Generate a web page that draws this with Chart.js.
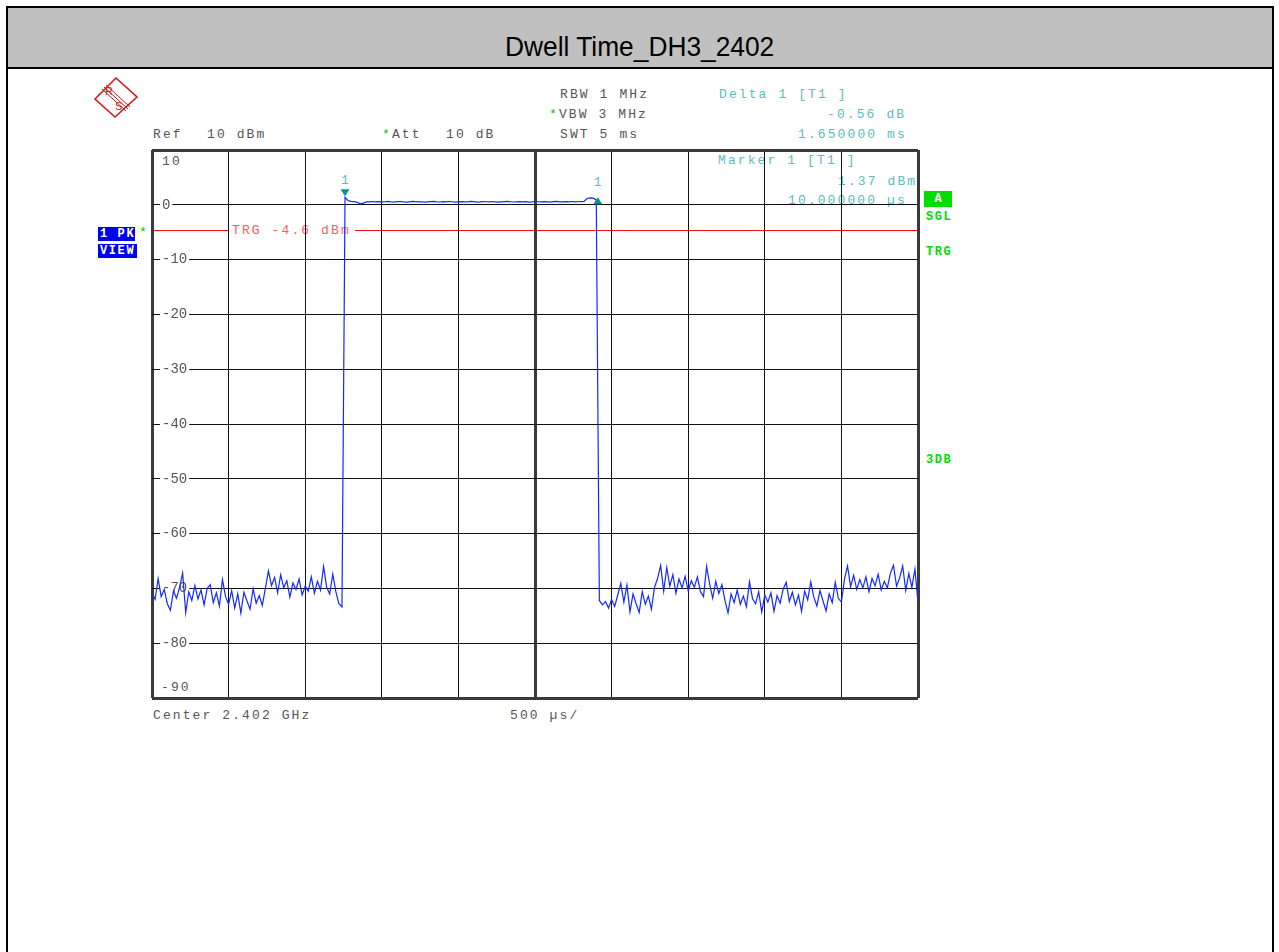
<!DOCTYPE html>
<html>
<head>
<meta charset="utf-8">
<title>Dwell Time_DH3_2402</title>
<script src="https://cdn.jsdelivr.net/npm/chart.js@4.4.1/dist/chart.umd.min.js"></script>
<style>
  html, body { margin: 0; padding: 0; background: #fff; }
  #page { position: relative; width: 1279px; height: 952px; overflow: hidden; }
  #frame { position: absolute; left: 6px; top: 6px; width: 1264px; height: 1000px; border: 2px solid #000; }
  #titlebar { position: absolute; left: 8px; top: 8px; width: 1264px; height: 59px; background: #c0c0c0; border-bottom: 2px solid #000; }
  #title { position: absolute; left: 0; width: 1279px; top: 33px; text-align: center; font: 28px "Liberation Sans", Arial, sans-serif; line-height: 28px; color: #000; transform: scaleX(0.94); transform-origin: 642px 0; }
  .t { position: absolute; font-family: "Liberation Mono", monospace; font-size: 13px; line-height: 13px; letter-spacing: 2.1px; color: #555; white-space: pre; }
  .c { color: #5cbcbc; }
  .r { color: #ff5a5a; }
  .s { color: #00c800; }
  .g { position: absolute; font: bold 12px "Liberation Mono", monospace; line-height: 12px; letter-spacing: 1.5px; color: #00dd00; white-space: pre; }
  .box { position: absolute; font: bold 12px "Liberation Mono", monospace; line-height: 14px; letter-spacing: 1.6px; color: #fff; white-space: pre; padding-left: 2px; }
  canvas { position: absolute; left: 0; top: 0; }
</style>
</head>
<body>
<div id="page">
  <div id="frame"></div>
  <div id="titlebar"></div>
  <div id="title">Dwell Time_DH3_2402</div>

  <svg style="position:absolute;left:90px;top:74px" width="52" height="48" viewBox="0 0 52 48">
    <polygon points="5,25 26,4 47,23 25,43" fill="none" stroke="#d01818" stroke-width="1.6"/>
    <line x1="12" y1="15" x2="36" y2="37" stroke="#d01818" stroke-width="1"/>
    <line x1="14" y1="13" x2="38" y2="35" stroke="#d01818" stroke-width="1"/>
    <line x1="16" y1="11" x2="40" y2="33" stroke="#d01818" stroke-width="1"/>
    <text x="15" y="21" font-family="Liberation Sans" font-size="11" fill="#d01818">R</text>
    <text x="25" y="36" font-family="Liberation Sans" font-size="11" fill="#d01818">S</text>
  </svg>

  <div class="t" style="left:560px;top:88px">RBW 1 MHz</div>
  <div class="t" style="left:549px;top:108px"><span class="s">*</span>VBW 3 MHz</div>
  <div class="t" style="left:560px;top:128px">SWT 5 ms</div>
  <div class="t" style="left:153px;top:128px">Ref</div>
  <div class="t" style="left:207px;top:128px">10 dBm</div>
  <div class="t" style="left:382px;top:128px"><span class="s">*</span>Att</div>
  <div class="t" style="left:446px;top:128px">10 dB</div>

  <div class="t c" style="left:719px;top:88px">Delta 1 [T1 ]</div>
  <div class="t c" style="left:827px;top:108px">-0.56 dB</div>
  <div class="t c" style="left:798px;top:128px">1.650000 ms</div>
  <div class="t c" style="left:718px;top:154px">Marker 1 [T1 ]</div>
  <div class="t c" style="left:838px;top:175px">1.37 dBm</div>
  <div class="t c" style="left:788px;top:194px">10.000000 µs</div>

  <div class="t r" id="trgLabel" style="left:232px;top:224px">TRG -4.6 dBm</div>

  <div class="box" style="left:98px;top:227px;width:35px;height:14px;background:#0000ee">1 PK</div>
  <div class="box" style="left:98px;top:244px;width:37px;height:14px;background:#0000ee">VIEW</div>
  <div class="t s" style="left:139px;top:226px">*</div>

  <div class="box" style="left:924px;top:191px;width:26px;height:16px;line-height:16px;background:#00dd00;text-align:center">A</div>
  <div class="g" style="left:926px;top:211px">SGL</div>
  <div class="g" style="left:926px;top:246px">TRG</div>
  <div class="g" style="left:926px;top:454px">3DB</div>

  <div class="t" id="yTop" style="left:162px;top:155px">10</div>
  <div class="t" id="yBottom" style="left:161px;top:681px">-90</div>
  <div class="t c" id="m1Label" style="left:341px;top:175px">1</div>
  <div class="t c" id="d1Label" style="left:594px;top:176px">1</div>

  <div class="t" style="left:153px;top:709px">Center 2.402 GHz</div>
  <div class="t" style="left:510px;top:709px">500 µs/</div>

  <canvas id="trace" width="1279" height="952"></canvas>
</div>

<script>
// sweep: 5 ms span, 251 trace points, 20 us apart
const sweepStepUs = 20;
const spanUs = 5000;
const gridStepUs = 500;

const refLevel = 10;
const bottomLevel = -90;
const levelStep = 10;
const triggerLevel = -4.6;

const marker1Us = 1260;
const marker1Dbm = 1.37;
const delta1Us = 1650;
const delta1Db = -0.56;

// noise floor before the burst
const noiseBeforeDbm = [
  -70.9, -72.0, -68.2, -71.5, -70.2, -72.8, -74.0, -70.5, -71.8, -69.8,
  -67.2, -74.4, -70.6, -72.2, -69.5, -71.9, -70.3, -73.0, -70.0, -69.3,
  -72.6, -70.8, -73.2, -68.4, -71.5, -72.9, -70.4, -73.6, -71.0, -74.5,
  -70.7, -72.3, -73.8, -70.1, -72.7, -71.3, -73.1, -70.0, -66.8, -69.5,
  -68.0, -70.8, -67.5, -69.9, -68.6, -71.6, -69.0, -70.2, -68.3, -71.2,
  -69.6, -70.5, -67.9, -70.9, -68.7, -70.3, -66.0, -69.8, -71.0, -67.4,
  -70.6, -72.8, -73.4
];

// the DH3 burst
const burstDbm = [
  1.37, 0.75, 0.62, 0.58, 0.45, 0.18, 0.30, 0.52,
  0.55, 0.60, 0.52, 0.58, 0.50, 0.56, 0.62, 0.54, 0.50, 0.57,
  0.60, 0.53, 0.49, 0.55, 0.61, 0.58, 0.52, 0.56, 0.50, 0.54,
  0.59, 0.62, 0.55, 0.51, 0.57, 0.53, 0.60, 0.56, 0.50, 0.54,
  0.58, 0.52, 0.55, 0.61, 0.57, 0.50, 0.53, 0.59, 0.56, 0.52,
  0.60, 0.55, 0.49, 0.54, 0.58, 0.62, 0.56, 0.51, 0.55, 0.59,
  0.53, 0.57, 0.50, 0.54, 0.60, 0.56, 0.52, 0.58, 0.55, 0.50,
  0.57, 0.61, 0.54, 0.52, 0.58, 0.55, 0.60, 0.53, 0.56, 0.59,
  0.62,
  1.15, 1.25, 1.22, 0.90
];

// noise floor after the burst
const noiseAfterDbm = [
  -72.2, -73.0, -72.4, -73.6, -72.0, -73.3, -71.2, -69.1, -72.5, -69.4,
  -74.3, -71.0, -72.8, -74.4, -70.6, -72.9, -71.4, -73.8, -69.8, -68.2,
  -65.8, -70.5, -66.2, -69.6, -67.5, -70.9, -68.3, -69.9, -67.8, -70.4,
  -68.6, -69.8, -67.9, -70.6, -71.5, -66.0, -69.2, -71.8, -68.7, -70.9,
  -69.3, -72.2, -74.5, -71.0, -72.6, -70.3, -72.9, -71.4, -73.3, -68.8,
  -71.9, -72.8, -70.6, -74.3, -71.2, -72.5, -70.8, -74.2, -71.3, -72.7,
  -70.1, -68.9, -72.4, -70.7, -73.0, -71.2, -74.2, -70.5, -72.1, -68.8,
  -71.6, -73.2, -70.4, -72.3, -74.1, -71.0, -72.6, -68.9, -71.8, -72.5,
  -68.3, -65.9, -69.7, -67.6, -70.2, -68.4, -69.9, -67.9, -70.6, -68.2,
  -69.5, -67.4, -70.3, -68.7, -69.9, -67.2, -65.8, -69.6, -68.1, -65.9,
  -70.4, -67.3, -69.8, -66.5, -72.5
];

const traceDbm = noiseBeforeDbm.concat(burstDbm, noiseAfterDbm);
const tracePoints = traceDbm.map((v, i) => ({ x: i * sweepStepUs, y: v }));

const isEdgeX = v => v === 0 || v === spanUs;
const isEdgeY = v => v === refLevel || v === bottomLevel;

// red trigger line, broken where the TRG label sits
const triggerLine = {
  id: 'triggerLine',
  beforeDraw(chart) {
    const { ctx, chartArea, scales: { y } } = chart;
    const lab = document.getElementById('trgLabel');
    const gapL = lab.offsetLeft - 3;
    const gapR = lab.offsetLeft + lab.offsetWidth + 4;
    const py = Math.round(y.getPixelForValue(triggerLevel)) + 0.5;
    ctx.save();
    ctx.strokeStyle = '#ff1010';
    ctx.lineWidth = 1;
    ctx.beginPath();
    ctx.moveTo(chartArea.left, py);
    ctx.lineTo(gapL, py);
    ctx.moveTo(gapR, py);
    ctx.lineTo(chartArea.right, py);
    ctx.stroke();
    ctx.restore();
  }
};

// marker triangles
const markers = {
  id: 'markers',
  afterDatasetsDraw(chart) {
    const { ctx, scales: { x, y } } = chart;
    ctx.save();
    ctx.fillStyle = '#089494';
    let px = x.getPixelForValue(marker1Us);
    let py = y.getPixelForValue(marker1Dbm);
    ctx.beginPath();
    ctx.moveTo(px - 4.5, py - 8);
    ctx.lineTo(px + 4.5, py - 8);
    ctx.lineTo(px, py - 1);
    ctx.closePath();
    ctx.fill();
    px = x.getPixelForValue(marker1Us + delta1Us);
    py = y.getPixelForValue(marker1Dbm + delta1Db);
    ctx.beginPath();
    ctx.moveTo(px - 4.5, py + 4);
    ctx.lineTo(px + 4.5, py + 4);
    ctx.lineTo(px, py - 3);
    ctx.closePath();
    ctx.fill();
    ctx.restore();
  }
};

const chart = new Chart(document.getElementById('trace'), {
  type: 'line',
  data: {
    datasets: [{
      data: tracePoints,
      borderColor: '#1428ff',
      borderWidth: 1.2,
      pointRadius: 0,
      tension: 0,
      fill: false
    }]
  },
  options: {
    responsive: false,
    animation: false,
    parsing: false,
    layout: { padding: { left: 152, top: 150, right: 361, bottom: 254 } },
    plugins: { legend: { display: false }, tooltip: { enabled: false } },
    scales: {
      x: {
        type: 'linear',
        min: 0,
        max: spanUs,
        ticks: { stepSize: gridStepUs, display: false },
        grid: {
          drawTicks: false,
          color: c => (c.tick && (isEdgeX(c.tick.value) || c.tick.value === spanUs / 2)) ? '#3a3a3a' : '#111',
          lineWidth: c => (c.tick && (isEdgeX(c.tick.value) || c.tick.value === spanUs / 2)) ? 3 : 1
        },
        border: { display: false },
        afterFit: s => { s.height = 0; }
      },
      y: {
        min: bottomLevel,
        max: refLevel,
        ticks: {
          stepSize: levelStep,
          mirror: true,
          padding: 10,
          color: '#555',
          font: { family: 'Liberation Mono', size: 14 },
          callback: v => isEdgeY(v) ? '' : String(v),
          showLabelBackdrop: c => !(c.tick && isEdgeY(c.tick.value)),
          backdropColor: '#fff',
          backdropPadding: { top: 0, bottom: 0, left: 2, right: 2 }
        },
        grid: {
          drawTicks: false,
          color: c => (c.tick && isEdgeY(c.tick.value)) ? '#3a3a3a' : '#111',
          lineWidth: c => (c.tick && isEdgeY(c.tick.value)) ? 3 : 1
        },
        border: { display: false },
        afterFit: s => { s.width = 0; }
      }
    }
  },
  plugins: [triggerLine, markers]
});

// place the edge level labels and marker numbers from the scales
const sx = chart.scales.x, sy = chart.scales.y;
document.getElementById('yTop').style.top = (sy.getPixelForValue(refLevel) + 5) + 'px';
document.getElementById('yBottom').style.top = (sy.getPixelForValue(bottomLevel) - 17) + 'px';
const m1 = document.getElementById('m1Label');
m1.style.left = (sx.getPixelForValue(marker1Us) - 4) + 'px';
m1.style.top = (sy.getPixelForValue(marker1Dbm) - 23) + 'px';
const d1 = document.getElementById('d1Label');
d1.style.left = (sx.getPixelForValue(marker1Us + delta1Us) - 4) + 'px';
d1.style.top = (sy.getPixelForValue(marker1Dbm + delta1Db) - 24) + 'px';
</script>
</body>
</html>
